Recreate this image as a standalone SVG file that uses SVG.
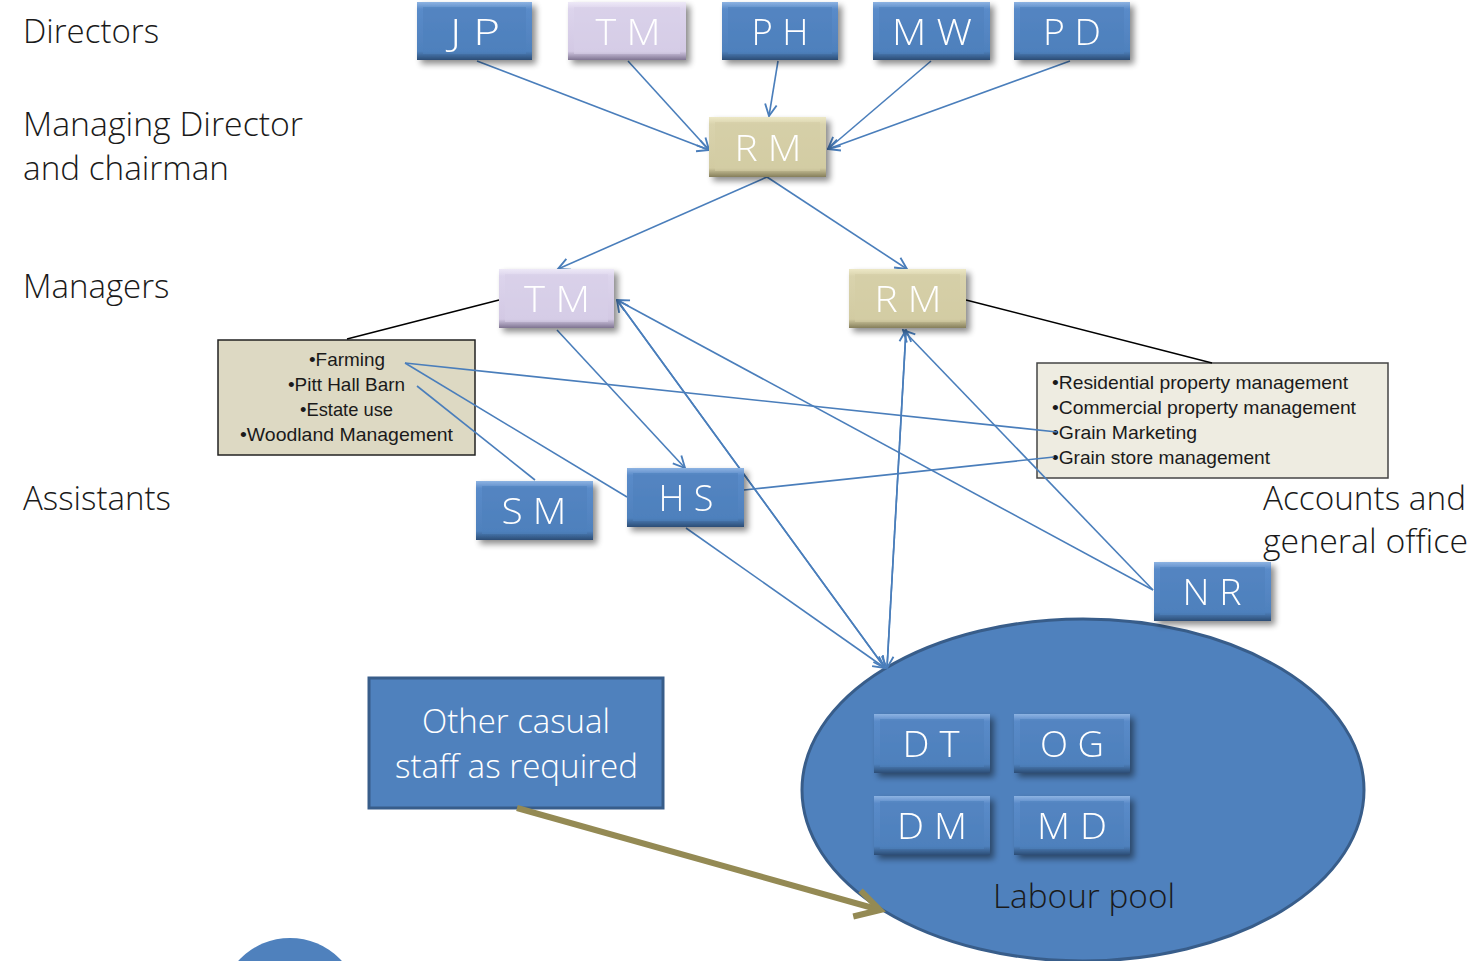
<svg xmlns="http://www.w3.org/2000/svg" width="1478" height="961" viewBox="0 0 1478 961">
<style>
.lbl{font-family:"Open Sans","Liberation Sans",sans-serif;font-weight:300;font-size:33px;fill:#1a1a1a}
.nar{font-family:"Liberation Sans","DejaVu Sans",sans-serif}
.bt{font-family:"Open Sans","Liberation Sans",sans-serif;font-weight:300;font-size:37px;fill:#ffffff;text-anchor:middle}
.bul{font-size:19px;fill:#1a1a1a}
.con{fill:none;stroke:#4a7ebb;stroke-width:1.6}
.blk{fill:none;stroke:#000;stroke-width:1.5}
.blue{fill:url(#gBlue)}
.lav{fill:url(#gLav)}
.tan{fill:url(#gTan)}
</style>
<defs>
<linearGradient id="gBlue" x1="0" y1="0" x2="0" y2="1"><stop offset="0" stop-color="#8db3e2"/><stop offset="0.12" stop-color="#5a8bc9"/><stop offset="0.85" stop-color="#4f81bd"/><stop offset="1" stop-color="#2c4d75"/></linearGradient>
<linearGradient id="gLav" x1="0" y1="0" x2="0" y2="1"><stop offset="0" stop-color="#eee9f7"/><stop offset="0.12" stop-color="#dcd4ec"/><stop offset="0.85" stop-color="#d3c9e4"/><stop offset="1" stop-color="#7f7491"/></linearGradient>
<linearGradient id="gTan" x1="0" y1="0" x2="0" y2="1"><stop offset="0" stop-color="#ede8c6"/><stop offset="0.12" stop-color="#d9d3ad"/><stop offset="0.85" stop-color="#d2cba2"/><stop offset="1" stop-color="#857e5a"/></linearGradient>
<filter id="sh" x="-20%" y="-20%" width="150%" height="150%"><feGaussianBlur in="SourceAlpha" stdDeviation="3"/><feOffset dx="4" dy="4"/><feComponentTransfer><feFuncA type="linear" slope="0.45"/></feComponentTransfer><feMerge><feMergeNode/><feMergeNode in="SourceGraphic"/></feMerge></filter>
<marker id="ar" viewBox="0 0 12 12" refX="11" refY="6" markerWidth="14" markerHeight="14" markerUnits="userSpaceOnUse" orient="auto"><path d="M1,1 L11,6 L1,11" fill="none" stroke="#4a7ebb" stroke-width="1.6"/></marker>
<marker id="ao" viewBox="0 0 12 12" refX="10" refY="6" markerWidth="36" markerHeight="36" markerUnits="userSpaceOnUse" orient="auto"><path d="M2,1.5 L10,6 L2,10.5" fill="none" stroke="#948a54" stroke-width="2"/></marker>
</defs>

<g id="labels">
<text class="lbl" x="23" y="43">Directors</text>
<text class="lbl" x="23" y="136" textLength="280" lengthAdjust="spacingAndGlyphs">Managing Director</text>
<text class="lbl" x="23" y="180" textLength="206" lengthAdjust="spacingAndGlyphs">and chairman</text>
<text class="lbl" x="23" y="298">Managers</text>
<text class="lbl" x="23" y="510">Assistants</text>
<text class="lbl" x="1263" y="510" font-size="36" textLength="203" lengthAdjust="spacingAndGlyphs">Accounts and</text>
<text class="lbl" x="1263" y="553" font-size="36" textLength="205" lengthAdjust="spacingAndGlyphs">general office</text>
</g>

<g id="labour-pool">
<ellipse cx="1083" cy="790" rx="281" ry="171" fill="#4f81bd" stroke="#385d8a" stroke-width="3"/>
<text class="lbl" x="993" y="908" font-size="36" fill="#000" textLength="182" lengthAdjust="spacingAndGlyphs">Labour pool</text>
</g>

<g id="bottom-circle"><circle cx="290" cy="1008" r="70" fill="#4f81bd"/></g>

<g id="casual">
<rect x="369" y="678" width="294" height="130" fill="#4f81bd" stroke="#385d8a" stroke-width="3"/>
<text class="lbl" x="422" y="733" font-size="36" fill="#fff" style="fill:#fff" textLength="188" lengthAdjust="spacingAndGlyphs">Other casual</text>
<text class="lbl" x="395" y="778" font-size="36" style="fill:#fff" textLength="243" lengthAdjust="spacingAndGlyphs">staff as required</text>
</g>

<g id="box-left">
<rect x="218" y="340" width="257" height="115" fill="#ddd9c3" stroke="#222" stroke-width="1.5"/>
<text class="nar bul" x="309" y="366" textLength="76" lengthAdjust="spacingAndGlyphs">•Farming</text>
<text class="nar bul" x="288" y="391" textLength="117" lengthAdjust="spacingAndGlyphs">•Pitt Hall Barn</text>
<text class="nar bul" x="300" y="416" textLength="93" lengthAdjust="spacingAndGlyphs">•Estate use</text>
<text class="nar bul" x="240" y="441" textLength="213" lengthAdjust="spacingAndGlyphs">•Woodland Management</text>
</g>

<g id="box-right">
<rect x="1037" y="363" width="351" height="115" fill="#eeece1" stroke="#444" stroke-width="1.5"/>
<text class="nar bul" x="1052" y="389" textLength="296" lengthAdjust="spacingAndGlyphs">•Residential property management</text>
<text class="nar bul" x="1052" y="414" textLength="304" lengthAdjust="spacingAndGlyphs">•Commercial property management</text>
<text class="nar bul" x="1052" y="439" textLength="145" lengthAdjust="spacingAndGlyphs">•Grain Marketing</text>
<text class="nar bul" x="1052" y="464" textLength="218" lengthAdjust="spacingAndGlyphs">•Grain store management</text>
</g>

<g id="connectors">
<line class="blk" x1="499" y1="300" x2="347" y2="339"/>
<line class="blk" x1="966" y1="300" x2="1212" y2="363"/>
<line class="con" x1="477" y1="61" x2="709" y2="150" marker-end="url(#ar)"/>
<line class="con" x1="628" y1="61" x2="709" y2="150" marker-end="url(#ar)"/>
<line class="con" x1="778" y1="61" x2="769" y2="116" marker-end="url(#ar)"/>
<line class="con" x1="931" y1="61" x2="828" y2="149" marker-end="url(#ar)"/>
<line class="con" x1="1070" y1="61" x2="828" y2="149" marker-end="url(#ar)"/>
<line class="con" x1="767" y1="177" x2="558" y2="269" marker-end="url(#ar)"/>
<line class="con" x1="767" y1="177" x2="907" y2="269" marker-end="url(#ar)"/>
<line class="con" x1="557" y1="330" x2="685" y2="468" marker-end="url(#ar)"/>
<line class="con" x1="405" y1="363" x2="1057" y2="432"/>
<line class="con" x1="405" y1="363" x2="627" y2="497"/>
<line class="con" x1="417" y1="386" x2="535" y2="480"/>
<line class="con" x1="744" y1="490" x2="1054" y2="457"/>
<line class="con" x1="686" y1="528" x2="885" y2="668" marker-end="url(#ar)"/>
<line class="con" x1="885" y1="668" x2="617" y2="300" marker-end="url(#ar)"/>
<line class="con" x1="617" y1="300" x2="885" y2="668" marker-end="url(#ar)"/>
<line class="con" x1="887" y1="668" x2="906" y2="330" marker-end="url(#ar)"/>
<line class="con" x1="906" y1="330" x2="887" y2="668" marker-end="url(#ar)"/>
<line class="con" x1="1153" y1="590" x2="903" y2="330" marker-end="url(#ar)"/>
<line class="con" x1="1153" y1="590" x2="617" y2="300" marker-end="url(#ar)"/>
<line x1="517" y1="808" x2="880" y2="910" stroke="#948a54" stroke-width="6" marker-end="url(#ao)"/>
</g>

<g id="JP" filter="url(#sh)"><rect class="blue" x="417" y="2" width="115" height="58"/><rect x="423" y="7" width="103" height="47" fill="#4f81bd" opacity="0.6"/><text class="bt" x="475" y="45" textLength="50" lengthAdjust="spacingAndGlyphs">J P</text></g>
<g id="TM-dir" filter="url(#sh)"><rect class="lav" x="568" y="2" width="118" height="58"/><rect x="574" y="7" width="106" height="47" fill="#d7cfe8" opacity="0.6"/><text class="bt" x="628" y="45" textLength="65" lengthAdjust="spacingAndGlyphs">T M</text></g>
<g id="PH" filter="url(#sh)"><rect class="blue" x="722" y="2" width="116" height="58"/><rect x="728" y="7" width="104" height="47" fill="#4f81bd" opacity="0.6"/><text class="bt" x="780" y="45" textLength="57" lengthAdjust="spacingAndGlyphs">P H</text></g>
<g id="MW" filter="url(#sh)"><rect class="blue" x="873" y="2" width="117" height="58"/><rect x="879" y="7" width="105" height="47" fill="#4f81bd" opacity="0.6"/><text class="bt" x="932" y="45" textLength="80" lengthAdjust="spacingAndGlyphs">M W</text></g>
<g id="PD" filter="url(#sh)"><rect class="blue" x="1014" y="2" width="116" height="58"/><rect x="1020" y="7" width="104" height="47" fill="#4f81bd" opacity="0.6"/><text class="bt" x="1072" y="45" textLength="58" lengthAdjust="spacingAndGlyphs">P D</text></g>

<g id="RM-md" filter="url(#sh)"><rect class="tan" x="709" y="117" width="117" height="60"/><rect x="715" y="122" width="105" height="49" fill="#d4cda5" opacity="0.6"/><text class="bt" x="768" y="161" textLength="67" lengthAdjust="spacingAndGlyphs">R M</text></g>

<g id="TM-mgr" filter="url(#sh)"><rect class="lav" x="499" y="269" width="115" height="59"/><rect x="505" y="274" width="103" height="48" fill="#d7cfe8" opacity="0.6"/><text class="bt" x="557" y="312" textLength="66" lengthAdjust="spacingAndGlyphs">T M</text></g>
<g id="RM-mgr" filter="url(#sh)"><rect class="tan" x="849" y="269" width="117" height="59"/><rect x="855" y="274" width="105" height="48" fill="#d4cda5" opacity="0.6"/><text class="bt" x="908" y="312" textLength="67" lengthAdjust="spacingAndGlyphs">R M</text></g>

<g id="SM" filter="url(#sh)"><rect class="blue" x="476" y="481" width="117" height="59"/><rect x="482" y="486" width="105" height="48" fill="#4f81bd" opacity="0.6"/><text class="bt" x="534" y="524" textLength="65" lengthAdjust="spacingAndGlyphs">S M</text></g>
<g id="HS" filter="url(#sh)"><rect class="blue" x="627" y="468" width="117" height="59"/><rect x="633" y="473" width="105" height="48" fill="#4f81bd" opacity="0.6"/><text class="bt" x="686" y="511" textLength="55" lengthAdjust="spacingAndGlyphs">H S</text></g>
<g id="NR" filter="url(#sh)"><rect class="blue" x="1154" y="562" width="117" height="59"/><rect x="1160" y="567" width="105" height="48" fill="#4f81bd" opacity="0.6"/><text class="bt" x="1212" y="605" textLength="59" lengthAdjust="spacingAndGlyphs">N R</text></g>

<g id="DT" filter="url(#sh)"><rect class="blue" x="874" y="714" width="116" height="59"/><rect x="880" y="719" width="104" height="48" fill="#4f81bd" opacity="0.6"/><text class="bt" x="931" y="757" textLength="57" lengthAdjust="spacingAndGlyphs">D T</text></g>
<g id="OG" filter="url(#sh)"><rect class="blue" x="1014" y="714" width="116" height="59"/><rect x="1020" y="719" width="104" height="48" fill="#4f81bd" opacity="0.6"/><text class="bt" x="1072" y="757" textLength="64" lengthAdjust="spacingAndGlyphs">O G</text></g>
<g id="DM" filter="url(#sh)"><rect class="blue" x="874" y="796" width="116" height="59"/><rect x="880" y="801" width="104" height="48" fill="#4f81bd" opacity="0.6"/><text class="bt" x="932" y="839" textLength="70" lengthAdjust="spacingAndGlyphs">D M</text></g>
<g id="MD" filter="url(#sh)"><rect class="blue" x="1014" y="796" width="116" height="59"/><rect x="1020" y="801" width="104" height="48" fill="#4f81bd" opacity="0.6"/><text class="bt" x="1072" y="839" textLength="70" lengthAdjust="spacingAndGlyphs">M D</text></g>
</svg>
